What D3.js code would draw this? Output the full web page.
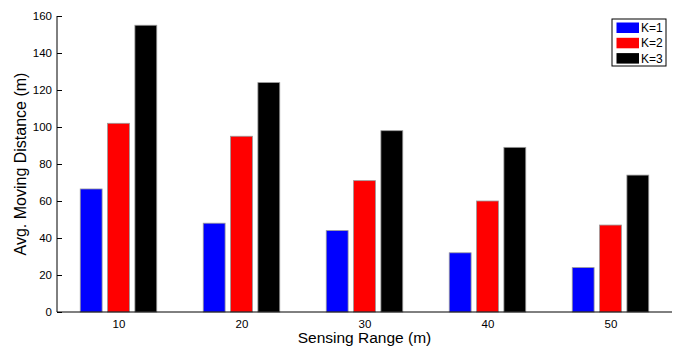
<!DOCTYPE html>
<html>
<head>
<meta charset="utf-8">
<script src="https://cdn.jsdelivr.net/npm/d3@7"></script>
<style>
  body { margin: 0; background: #fff; }
  svg { display: block; font-family: "Liberation Sans", Arial, Helvetica, sans-serif; }
</style>
</head>
<body>
<svg id="chart" width="678" height="348"></svg>
<script>
// sensing range (m)
const ranges = [10, 20, 30, 40, 50];
const seriesNames = ['K=1', 'K=2', 'K=3'];
const colors = ['#0000ff', '#ff0000', '#000000'];
// avg. moving distance (m)
const k1 = [66.5, 48, 44, 32, 24];
const k2 = [102, 95, 71, 60, 47];
const k3 = [155, 124, 98, 89, 74];
const yTicks = [0, 20, 40, 60, 80, 100, 120, 140, 160];

const series = [k1, k2, k3];

const svg = d3.select('#chart');
const plotL = 57, plotR = 672, plotT = 16, plotB = 312;

const x = d3.scaleLinear().domain([5, 55]).range([plotL, plotR]);
const y = d3.scaleLinear().domain([0, 160]).range([plotB, plotT]);

// matlab style grouping: group width 3/4.5 of spacing, bar 0.8 of slot
const groupW = 10 * 3 / 4.5;
const slot = groupW / 3;
const barW = slot * 0.8;

const bars = svg.append('g');
series.forEach((vals, si) => {
  bars.selectAll(null)
    .data(vals.map((v, i) => ({ r: ranges[i], v })))
    .enter()
    .append('rect')
    .attr('x', (d) => x(d.r - groupW / 2 + slot * si + (slot - barW) / 2))
    .attr('width', x(barW) - x(0))
    .attr('y', (d) => y(d.v))
    .attr('height', (d) => y(0) - y(d.v))
    .attr('fill', colors[si])
    .attr('stroke', '#999')
    .attr('stroke-width', 0.8);
});

// y axis, ticks inward
const yAxis = svg.append('g')
  .attr('transform', `translate(${plotL},0)`)
  .call(d3.axisRight(y).tickValues(yTicks).tickSize(5).tickFormat(d3.format('d')));
yAxis.select('.domain').attr('d', `M0,${plotT}V${plotB}`).attr('stroke', '#000');
yAxis.selectAll('.tick line').attr('stroke', '#000');
yAxis.selectAll('.tick text')
  .attr('x', -5)
  .attr('text-anchor', 'end')
  .attr('font-size', 11.5)
  .attr('font-family', '"Liberation Sans", Arial, sans-serif')
  .attr('fill', '#000');

// x axis
const xAxis = svg.append('g')
  .attr('transform', `translate(0,${plotB})`)
  .call(d3.axisBottom(x).tickValues(ranges).tickSize(0).tickPadding(8).tickFormat(d3.format('d')));
xAxis.select('.domain').attr('d', `M${plotL},0H${plotR}`).attr('stroke', '#000');
xAxis.selectAll('.tick text')
  .attr('font-size', 11.5)
  .attr('font-family', '"Liberation Sans", Arial, sans-serif')
  .attr('fill', '#000');

// axis labels
svg.append('text')
  .attr('x', (plotL + plotR) / 2)
  .attr('y', 343)
  .attr('text-anchor', 'middle')
  .attr('font-size', 15.5)
  .text('Sensing Range (m)');

svg.append('text')
  .attr('transform', `translate(26,${(plotT + plotB) / 2}) rotate(-90)`)
  .attr('text-anchor', 'middle')
  .attr('font-size', 16)
  .text('Avg. Moving Distance (m)');

// legend
const lg = svg.append('g').attr('transform', 'translate(612,19)');
lg.append('rect')
  .attr('width', 54).attr('height', 47)
  .attr('fill', '#fff').attr('stroke', '#000').attr('stroke-width', 1);
seriesNames.forEach((name, i) => {
  lg.append('rect')
    .attr('x', 4.5).attr('y', 3.5 + i * 15.3)
    .attr('width', 22.5).attr('height', 10.5)
    .attr('fill', colors[i]);
  lg.append('text')
    .attr('x', 29).attr('y', 13 + i * 15.3)
    .attr('font-size', 12)
    .text(name);
});
</script>
</body>
</html>
